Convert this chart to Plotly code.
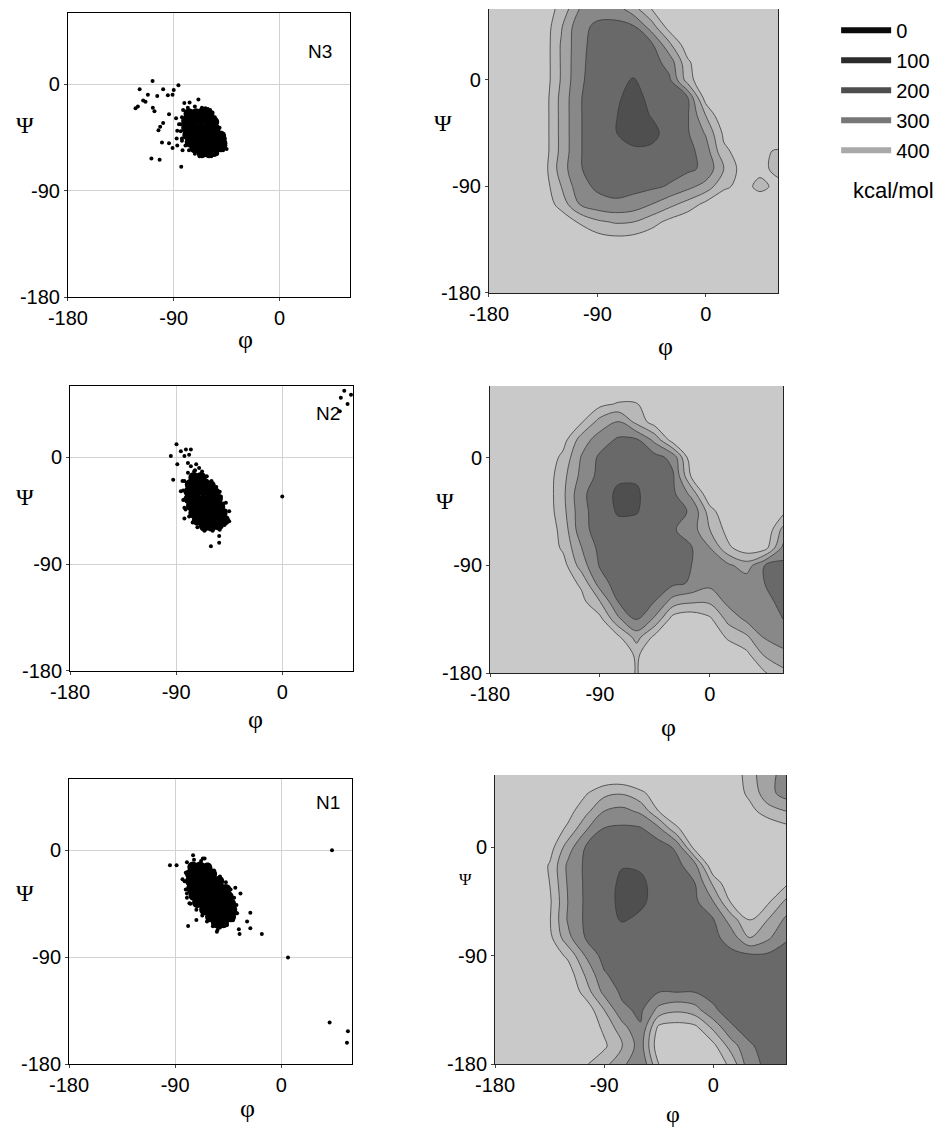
import plotly.graph_objects as go
from plotly.subplots import make_subplots

# grid of the energy maps (degrees)
phi_grid = [-180, -165, -150, -135, -120, -105, -90, -75, -60, -45, -30, -15, 0, 15, 30, 45, 60]
psi_grid = [60, 45, 30, 15, 0, -15, -30, -45, -60, -75, -90, -105, -120, -135, -150, -165, -180]

# energies, one row per psi value (top to bottom)
energy_n3 = [
    [520, 510, 500, 460, 370, 200, 140, 150, 260, 400, 480, 500, 500, 500, 500, 500, 500],
    [520, 510, 500, 470, 310, 130, 80, 70, 85, 250, 450, 500, 500, 500, 500, 500, 500],
    [530, 520, 510, 470, 290, 130, 60, 50, 55, 80, 280, 470, 500, 500, 500, 500, 500],
    [530, 520, 510, 470, 290, 125, 55, 40, 35, 55, 140, 380, 500, 500, 500, 500, 500],
    [530, 520, 510, 470, 290, 120, 50, 20, -5, 30, 85, 350, 500, 500, 500, 500, 500],
    [530, 520, 510, 460, 270, 110, 40, 10, -20, 15, 60, 95, 450, 500, 500, 500, 500],
    [530, 520, 510, 460, 270, 110, 40, 5, -40, 5, 50, 90, 300, 500, 500, 500, 500],
    [530, 520, 510, 460, 270, 110, 40, 5, -50, -30, 40, 90, 210, 420, 500, 500, 500],
    [530, 520, 510, 460, 270, 110, 40, 20, 20, 20, 50, 65, 150, 380, 440, 420, 390],
    [530, 520, 510, 450, 250, 110, 50, 40, 45, 50, 60, 80, 120, 300, 440, 420, 380],
    [530, 520, 510, 460, 300, 140, 80, 60, 70, 80, 110, 170, 240, 380, 430, 380, 420],
    [530, 520, 510, 470, 360, 200, 140, 120, 140, 200, 270, 340, 430, 480, 500, 450, 440],
    [530, 520, 510, 500, 470, 390, 320, 290, 300, 360, 430, 480, 500, 500, 500, 500, 500],
    [530, 530, 520, 510, 500, 480, 450, 430, 440, 470, 500, 500, 500, 500, 500, 500, 500],
    [530, 530, 530, 520, 520, 520, 520, 510, 510, 510, 520, 520, 520, 520, 520, 520, 520],
    [530, 530, 530, 530, 530, 530, 530, 530, 530, 530, 530, 530, 530, 530, 530, 530, 530],
    [540, 540, 540, 540, 540, 540, 540, 540, 540, 540, 540, 540, 540, 540, 540, 540, 540],
]

energy_n2 = [
    [500, 500, 500, 500, 500, 500, 500, 500, 500, 500, 500, 500, 500, 500, 500, 500, 500],
    [500, 500, 500, 500, 500, 480, 430, 390, 395, 450, 500, 500, 500, 500, 500, 500, 500],
    [500, 500, 500, 480, 450, 410, 260, 190, 330, 450, 500, 500, 500, 500, 500, 500, 500],
    [500, 500, 500, 490, 440, 250, 150, 85, 85, 230, 460, 500, 500, 500, 500, 500, 500],
    [500, 500, 500, 480, 370, 190, 80, 50, 40, 60, 130, 480, 500, 500, 500, 500, 500],
    [500, 500, 500, 470, 330, 170, 70, 20, 10, 30, 90, 420, 500, 500, 500, 500, 500],
    [500, 500, 500, 470, 320, 120, 50, -20, -10, 40, 80, 230, 500, 500, 500, 500, 500],
    [500, 500, 500, 470, 330, 130, 50, -10, -5, 40, 70, 110, 350, 500, 500, 500, 430],
    [500, 500, 500, 480, 360, 130, 60, 30, 30, 60, 90, 150, 300, 440, 500, 500, 270],
    [500, 500, 500, 480, 380, 200, 70, 40, 45, 60, 80, 95, 200, 380, 470, 450, 180],
    [500, 500, 500, 490, 440, 250, 90, 50, 45, 60, 80, 100, 150, 180, 250, 100, 70],
    [500, 500, 500, 500, 460, 380, 150, 50, 50, 60, 80, 110, 170, 150, 140, 100, 60],
    [500, 500, 500, 500, 500, 430, 300, 95, 70, 100, 240, 280, 280, 170, 130, 120, 80],
    [500, 500, 500, 500, 500, 500, 430, 220, 90, 220, 450, 480, 420, 270, 180, 115, 100],
    [500, 500, 500, 500, 500, 500, 500, 420, 260, 430, 500, 500, 500, 380, 320, 190, 150],
    [500, 500, 500, 500, 500, 500, 500, 500, 380, 500, 500, 500, 500, 500, 430, 290, 230],
    [500, 500, 500, 500, 500, 500, 500, 500, 390, 500, 500, 500, 500, 500, 500, 410, 330],
]

energy_n1 = [
    [500, 500, 500, 500, 500, 500, 500, 500, 500, 500, 500, 500, 500, 500, 330, 250, 140],
    [500, 500, 500, 500, 480, 410, 330, 310, 380, 450, 500, 500, 500, 480, 370, 240, 150],
    [500, 500, 500, 490, 440, 330, 200, 170, 220, 400, 500, 500, 500, 500, 440, 340, 300],
    [500, 500, 500, 470, 380, 210, 90, 80, 85, 170, 380, 500, 500, 500, 500, 500, 440],
    [500, 500, 490, 450, 250, 90, 60, 30, 30, 50, 120, 450, 500, 500, 500, 500, 500],
    [500, 500, 500, 390, 180, 80, 50, 5, 10, 40, 70, 170, 500, 500, 500, 500, 500],
    [500, 500, 500, 400, 190, 80, 40, -20, -15, 30, 60, 100, 320, 500, 500, 500, 420],
    [500, 500, 500, 420, 200, 80, 30, -20, -10, 20, 50, 80, 200, 420, 480, 420, 280],
    [500, 500, 500, 410, 190, 80, 20, -5, 10, 30, 50, 70, 95, 250, 410, 300, 180],
    [500, 500, 500, 430, 230, 90, 40, 30, 30, 40, 50, 60, 70, 150, 300, 220, 110],
    [500, 500, 500, 470, 380, 190, 60, 40, 40, 40, 40, 50, 60, 70, 80, 80, 70],
    [500, 500, 500, 500, 460, 280, 110, 50, 40, 40, 40, 50, 60, 70, 70, 70, 60],
    [500, 500, 500, 500, 500, 350, 170, 80, 90, 95, 95, 95, 80, 70, 70, 60, 60],
    [500, 500, 500, 500, 500, 470, 300, 120, 80, 230, 280, 240, 110, 70, 60, 50, 50],
    [500, 500, 500, 500, 500, 480, 380, 240, 110, 430, 450, 430, 280, 110, 70, 50, 40],
    [500, 500, 500, 500, 500, 500, 420, 300, 150, 480, 500, 500, 430, 250, 110, 70, 60],
    [500, 500, 500, 500, 500, 410, 330, 230, 100, 400, 500, 500, 480, 370, 130, 80, 70],
]

# sampled conformations (phi, psi); *_core = the solid part of each cloud
n3_phi = [-108, -119, -86, -99, -90, -112, -104, -95, -91, -114, -116, -122.5, -120.5, -107.8,
          -106.4, -94, -99, -101.5, -103, -100, -94, -91, -109, -102, -83.6, -88, -85.5, -87,
          -87.5, -83, -87, -82.5, -81, -76.5, -69, -63, -59, -49.5, -46.5, -45, -67, -59,
          -82, -78, -72, -66, -61, -57, -83, -84, -84, -83, -80, -77, -72, -68, -63, -58,
          -53, -48, -46, -47, -49, -51, -53, -55]
n3_psi = [2.5, -4.5, -1, -4.5, -5, -9, -10, -9.5, -9, -15, -14, -20.5, -19, -20,
          -23, -25.6, -33, -36, -39, -49.5, -50, -54, -63, -64, -70, -29, -34, -39.5,
          -46, -48, -52, -56, -16, -15.5, -13, -20.5, -22, -42, -46, -55, -60, -58.6,
          -22, -20, -19, -20, -21, -24, -28, -34, -40, -46, -52, -56, -59, -61, -60, -61,
          -59, -56, -52, -47, -42, -37, -32, -28]
n3_core_phi = [-77, -71, -65, -60, -79, -73, -67, -61, -56, -79, -73, -67, -61, -55,
               -78, -72, -66, -60, -54, -50, -76, -70, -64, -58, -52, -49, -72, -66, -60,
               -54, -50, -66, -60, -56]
n3_core_psi = [-25, -25, -24, -26, -31, -31, -30, -31, -32, -37, -37, -38, -37, -38,
               -43, -43, -44, -43, -43, -44, -49, -49, -50, -49, -49, -50, -54, -54, -55,
               -54, -53, -58, -58, -57]

n2_phi = [-89.7, -94.5, -86, -81.7, -77.5, -83, -79, -89, -92.5, -84.6, -86, -83, -83, -83,
          -80, -77.5, -73, -70.5, -74.7, -47.8, -45, -45, -53.5, -53.5, -60.5, 0,
          52.6, 58.3, 49.7, 55.4, 48.8,
          -80, -74, -68, -64, -60, -56, -83, -84, -84, -82, -79, -76, -72, -66, -59, -53,
          -49, -47, -48, -50, -52, -53]
n2_psi = [11, 1, 5, 6.5, 6.5, 1, 2, -6, -19, -20, -28.6, -35.6, -42.6, -51.6,
          -4.8, -7.6, -6, -9, -11.8, -38.4, -45.4, -53.8, -66.4, -72, -75, -33,
          56, 52.7, 50, 44.8, 38.7,
          -13, -11, -12, -16, -20, -25, -20, -28, -36, -44, -50, -55, -59, -62, -62, -61,
          -57, -51, -45, -39, -33, -29]
n2_core_phi = [-75, -69, -78, -72, -66, -61, -79, -73, -67, -61, -57, -79, -73, -67, -61,
               -55, -77, -71, -65, -59, -53, -75, -69, -63, -57, -51, -72, -66, -60, -54,
               -49, -66, -60, -54]
n2_core_psi = [-17, -17, -23, -23, -22, -24, -29, -29, -28, -29, -30, -35, -35, -36, -35,
               -35, -41, -41, -40, -41, -42, -47, -47, -46, -47, -47, -53, -53, -52, -53,
               -53, -58, -58, -57]

n1_phi = [-94.4, -88.8, -74.8, -66.5, -61, -83.75, -34.6, -26.25, -29, -36, -35.4, -26.25,
          -16.5, -79, -77.9, -80, -54, -72, -37.5, -39, -54.6, -65, 43, 5.7, 41, 56.5, 55.7,
          -80, -74, -68, -62, -57, -52, -47, -43, -40, -38, -38, -41, -46, -52, -58, -63,
          -67, -72, -77, -80, -81, -82, -81]
n1_psi = [-12.6, -12.6, -4.2, -7, -12.6, -24.3, -36.3, -52.6, -60, -66.5, -70.5, -65.7,
          -70.5, -63.8, -44.7, -36.3, -67, -58.7, -53, -31.6, -68.5, -7, 0, -90.3, -145,
          -152.4, -162,
          -10, -8, -9, -12, -17, -22, -27, -33, -40, -46, -53, -59, -63, -65, -64, -60,
          -55, -50, -45, -40, -33, -26, -19]
n1_core_phi = [-75, -69, -63, -77, -71, -65, -59, -77, -71, -65, -59, -53, -76, -70, -64,
               -58, -52, -47, -74, -68, -62, -56, -50, -45, -71, -65, -59, -53, -47, -43,
               -65, -59, -53, -47, -42, -60, -54, -48, -43, -55, -49]
n1_core_psi = [-14, -14, -15, -20, -20, -21, -20, -26, -26, -27, -26, -26, -32, -32, -31,
               -32, -32, -33, -38, -38, -37, -38, -38, -39, -44, -44, -43, -44, -44, -45,
               -50, -50, -49, -50, -50, -56, -56, -55, -56, -61, -61]

tick_vals = [-180, -90, 0]
tick_text = ['-180', '-90', '0']
legend_levels = [0, 100, 200, 300, 400]
legend_colors = ['#0a0a0a', '#2b2b2b', '#4d4d4d', '#777777', '#a9a9a9']
panel_names = ['N3', 'N2', 'N1']

sans = 'Arial, Liberation Sans, sans-serif'
serif = 'Liberation Serif, DejaVu Serif, serif'

# grey bands: below 0, 0-100, ..., above 400
band_scale = [[0.0, '#4f4f4f'], [0.2, '#696969'], [0.4, '#888888'],
              [0.6, '#a3a3a3'], [0.8, '#b8b8b8'], [1.0, '#c9c9c9']]

# the page body adds an 8px offset, so the figure is 8px smaller
W, H = 940, 1122
left_x = [[0.0638, 0.3638], [0.0660, 0.3670], [0.0649, 0.3660]]
right_x = [[0.5117, 0.8191], [0.5128, 0.8245], [0.5181, 0.8277]]
left_y = [[0.7424, 0.9955], [0.4091, 0.6631], [0.0588, 0.3128]]
right_y = [[0.7460, 0.9991], [0.4073, 0.6631], [0.0588, 0.3164]]

phi_pos_left = [(0.628, -0.15), (0.654, -0.17), (0.629, -0.155)]
psi_pos_left = [(-0.152, 0.606), (-0.16, 0.61), (-0.155, 0.60)]
phi_pos_right = [(0.61, -0.19), (0.61, -0.19), (0.61, -0.172)]
psi_pos_right = [(-0.16, 0.6), (-0.154, 0.6), (-0.10, 0.64)]
name_pos = [(0.894, 0.866), (0.91, 0.905), (0.915, 0.916)]

clouds = [(n3_phi, n3_psi, n3_core_phi, n3_core_psi),
          (n2_phi, n2_psi, n2_core_phi, n2_core_psi),
          (n1_phi, n1_psi, n1_core_phi, n1_core_psi)]
maps = [energy_n3, energy_n2, energy_n1]

fig = make_subplots(rows=3, cols=2)

tick_font = dict(family=sans, size=20, color='black')


def label(text, xref, yref, pos, font):
    return dict(text=text, xref=xref, yref=yref, x=pos[0], y=pos[1], xanchor='center',
                yanchor='middle', showarrow=False, font=font)


annotations = []
for r in range(3):
    ph, ps, cph, cps = clouds[r]
    fig.add_trace(go.Scatter(x=cph, y=cps, mode='markers', marker=dict(color='black', size=11),
                             showlegend=False, hoverinfo='skip'), row=r + 1, col=1)
    fig.add_trace(go.Scatter(x=ph, y=ps, mode='markers', marker=dict(color='black', size=4),
                             showlegend=False), row=r + 1, col=1)
    fig.add_trace(go.Contour(x=phi_grid, y=psi_grid[::-1], z=maps[r][::-1],
                             contours=dict(start=0, end=400, size=100, coloring='fill'),
                             colorscale=band_scale, showscale=False,
                             line=dict(color='#3a3a3a', width=0.8, smoothing=1.0),
                             hoverinfo='skip'), row=r + 1, col=2)

    # left: scatter box with light grid
    fig.update_xaxes(domain=left_x[r], range=[-180, 60], tickvals=tick_vals, ticktext=tick_text,
                     showgrid=True, gridcolor='#d2d2d2', zeroline=False, showline=True,
                     linecolor='black', linewidth=1, mirror=True, ticks='outside', ticklen=3,
                     automargin=False, tickfont=tick_font, row=r + 1, col=1)
    fig.update_yaxes(domain=left_y[r], range=[-180, 60], tickvals=tick_vals, ticktext=tick_text,
                     showgrid=True, gridcolor='#d2d2d2', zeroline=False, showline=True,
                     linecolor='black', linewidth=1, mirror=True, ticks='outside', ticklen=3,
                     automargin=False, tickfont=tick_font, row=r + 1, col=1)
    # right: energy map
    fig.update_xaxes(domain=right_x[r], range=[-180, 60], tickvals=tick_vals, ticktext=tick_text,
                     showgrid=False, zeroline=False, showline=True, linecolor='#222222',
                     linewidth=1, ticks='outside', ticklen=3,
                     automargin=False, tickfont=tick_font, row=r + 1, col=2)
    fig.update_yaxes(domain=right_y[r], range=[-180, 60], tickvals=tick_vals, ticktext=tick_text,
                     showgrid=False, zeroline=False, showline=True, linecolor='#222222',
                     linewidth=1, mirror=True, ticks='outside', ticklen=3,
                     automargin=False, tickfont=tick_font, row=r + 1, col=2)

    left_n = 2 * r + 1
    right_n = 2 * r + 2
    lx = 'x domain' if left_n == 1 else 'x%d domain' % left_n
    ly = 'y domain' if left_n == 1 else 'y%d domain' % left_n
    rx = 'x%d domain' % right_n
    ry = 'y%d domain' % right_n
    annotations += [
        label('φ', lx, ly, phi_pos_left[r], dict(family=serif, size=26, color='black')),
        label('Ψ', lx, ly, psi_pos_left[r], dict(family=serif, size=24, color='black')),
        label('φ', rx, ry, phi_pos_right[r],
              dict(family=serif, size=26 if r < 2 else 24, color='black')),
        label('Ψ', rx, ry, psi_pos_right[r],
              dict(family=serif, size=24 if r < 2 else 17, color='black')),
        label(panel_names[r], lx, ly, name_pos[r], dict(family=sans, size=19, color='black')),
    ]

# legend of the energy bands
for lev, col in zip(legend_levels, legend_colors):
    fig.add_trace(go.Scatter(x=[None], y=[None], mode='lines', name=str(lev),
                             line=dict(color=col, width=6), legendgroup=str(lev)),
                  row=1, col=2)

annotations.append(label('kcal/mol', 'paper', 'paper', (885 / W, 1 - 182 / H),
                         dict(family=sans, size=22, color='black')))

fig.update_layout(
    width=W, height=H,
    margin=dict(l=0, r=0, t=0, b=0, autoexpand=False),
    paper_bgcolor='white', plot_bgcolor='white',
    showlegend=True,
    legend=dict(x=0.881, y=0.9975, xanchor='left', yanchor='top', bgcolor='rgba(0,0,0,0)',
                font=dict(family=sans, size=20, color='black'), tracegroupgap=1,
                itemwidth=50),
    annotations=annotations,
)

fig.write_html("out.html")
